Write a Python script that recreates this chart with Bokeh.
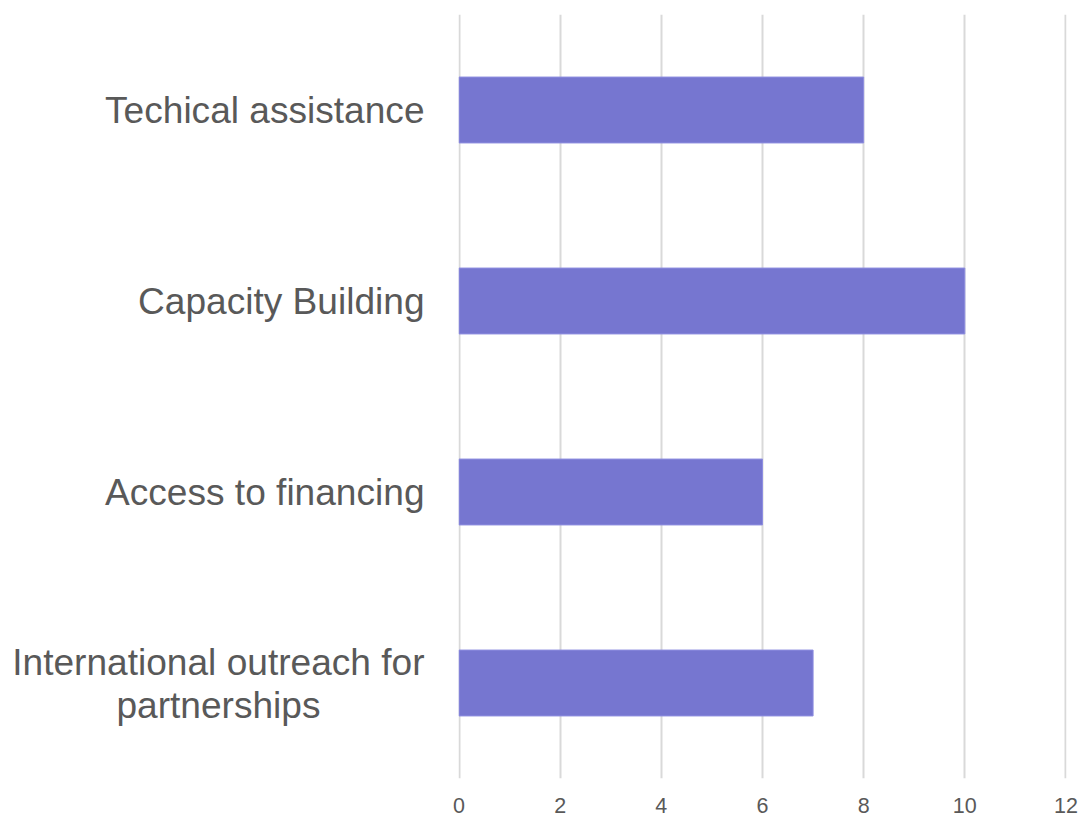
from bokeh.plotting import figure
from bokeh.models import ColumnDataSource, FactorRange, FixedTicker, Range1d
from bokeh.layouts import row
from bokeh.core.properties import value
from bokeh.embed import file_html
from bokeh.resources import INLINE

# data (bottom to top)
categories = ["International outreach for\npartnerships", "Access to financing",
              "Capacity Building", "Techical assistance"]
values = [7, 6, 10, 8]
x_ticks = [0, 2, 4, 6, 8, 10, 12]

FONT = "Liberation Sans"
TEXT_COLOR = "#595959"

W, H = 1083, 818
LEFT_W = 430          # width of the label panel
FRAME_LEFT = 458      # left edge of the plotting frame on the page
TOP, BOTTOM = 14, 40
yr = FactorRange(*categories)

# ---- label panel (left) ----
lp = figure(width=LEFT_W, height=H, output_backend="svg", toolbar_location=None,
            y_range=yr, x_range=Range1d(0, LEFT_W),
            min_border_left=0, min_border_right=0,
            min_border_top=TOP, min_border_bottom=BOTTOM)
lp.outline_line_color = None
lp.xaxis.visible = False
lp.yaxis.visible = False
lp.grid.visible = False
lp.border_fill_color = "white"

RIGHT_EDGE = 424
CENTER_X = 218
LINE_STEP = 43
rows = dict(cat=[], line=[], x=[], align=[], yoff=[])
for c in categories:
    lines = c.split("\n")
    n = len(lines)
    for i, ln in enumerate(lines):
        rows["cat"].append(c)
        rows["line"].append(ln)
        if i == 0:
            rows["x"].append(RIGHT_EDGE)
            rows["align"].append("right")
        else:
            rows["x"].append(CENTER_X)
            rows["align"].append("center")
        rows["yoff"].append((i - (n - 1) / 2) * LINE_STEP)
lab_src = ColumnDataSource(rows)
lp.text(x="x", y="cat", text="line", source=lab_src, y_offset="yoff",
        text_align="align", text_baseline="middle",
        text_font=value(FONT), text_font_size="37.1px", text_color=TEXT_COLOR)

# ---- bar chart (right) ----
p = figure(width=W - LEFT_W, height=H, output_backend="svg", toolbar_location=None,
           y_range=yr, x_range=Range1d(-0.01, 12.01),
           min_border_left=FRAME_LEFT - LEFT_W, min_border_right=17,
           min_border_top=TOP, min_border_bottom=BOTTOM)
p.outline_line_color = None
p.background_fill_color = "white"
p.border_fill_color = "white"

src = ColumnDataSource(dict(cat=categories, val=values))
p.hbar(y="cat", right="val", left=0, height=0.345, source=src,
       fill_color="#7676D0", line_color="#8e8ee0", line_width=1)

p.xaxis.ticker = FixedTicker(ticks=x_ticks)
p.xaxis.axis_line_color = None
p.xaxis.major_tick_line_color = None
p.xaxis.minor_tick_line_color = None
p.xaxis.major_tick_out = 0
p.xaxis.major_tick_in = 0
p.xaxis.major_label_standoff = 19
p.xaxis.major_label_text_font = FONT
p.xaxis.major_label_text_font_size = "21.5px"
p.xaxis.major_label_text_color = TEXT_COLOR

p.xgrid.grid_line_color = "#D9D9D9"
p.xgrid.grid_line_width = 2
p.ygrid.grid_line_color = None
p.yaxis.visible = False

layout = row(lp, p, spacing=0)
open("out.html", "w").write(file_html(layout, INLINE))
